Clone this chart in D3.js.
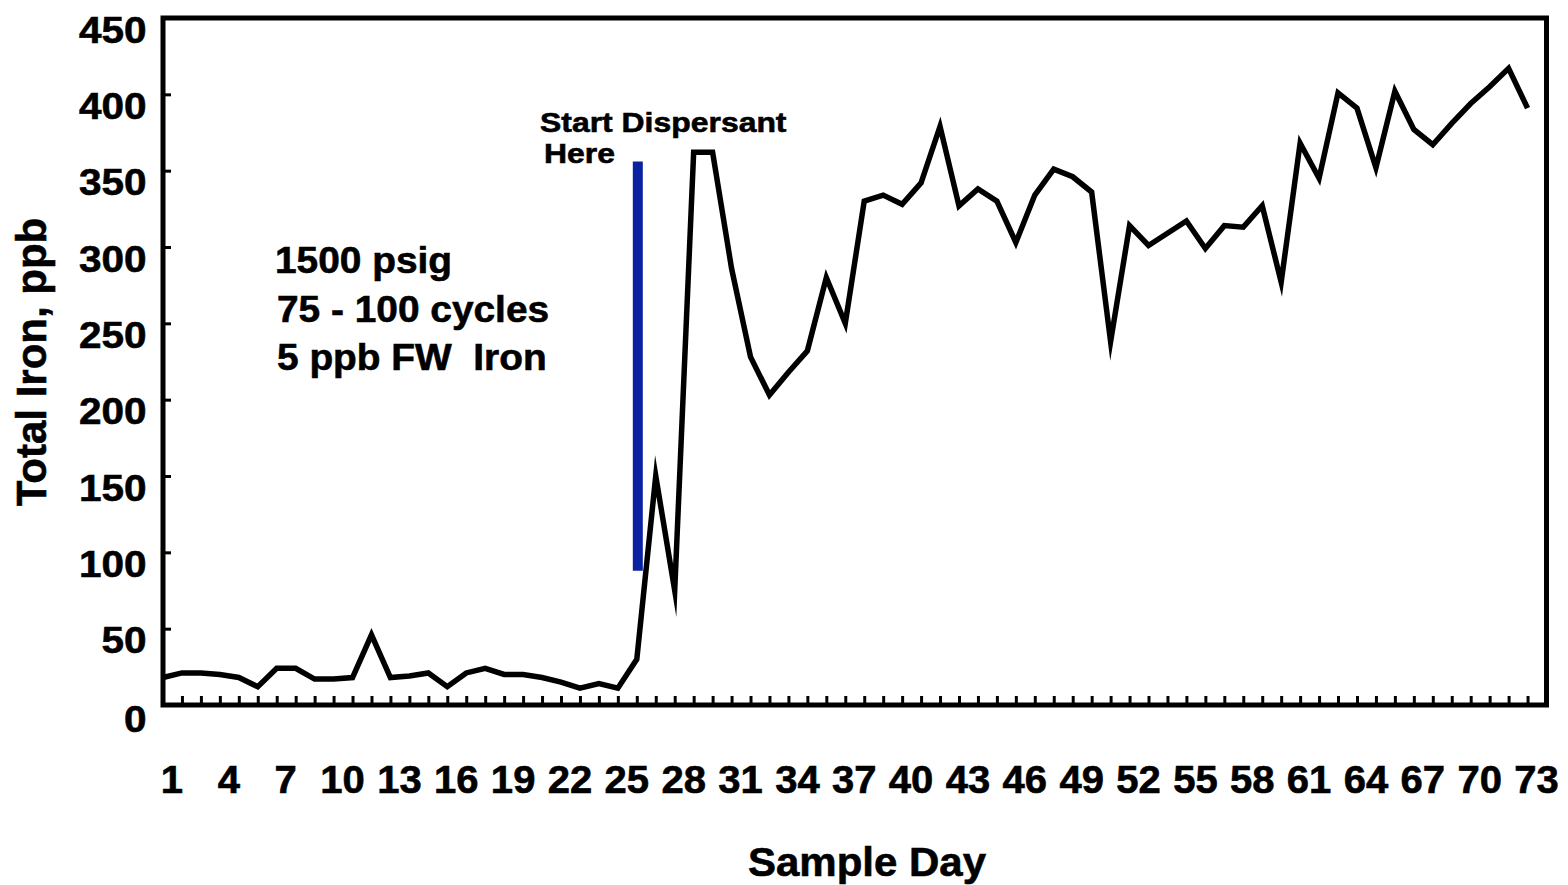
<!DOCTYPE html>
<html><head><meta charset="utf-8">
<script src="https://cdn.jsdelivr.net/npm/d3@7"></script>
<style>
html,body{margin:0;padding:0;background:#fff;}
svg{display:block;}
text{font-family:"Liberation Sans",Arial,Helvetica,sans-serif;font-weight:bold;fill:#000;stroke:#000;stroke-width:0.6px;}
</style></head><body>
<svg id="chart" width="1568" height="885"></svg>
<script>
const days = [1,2,3,4,5,6,7,8,9,10,11,12,13,14,15,16,17,18,19,20,21,22,23,24,25,26,27,28,29,30,31,32,33,34,35,36,37,38,39,40,41,42,43,44,45,46,47,48,49,50,51,52,53,54,55,56,57,58,59,60,61,62,63,64,65,66,67,68,69,70,71,72,73];
const iron = [18,21,21,20,18,12,24,24,17,17,18,46,18,19,21,12,21,24,20,20,18,15,11,14,11,30,150,75,362,362,286,228,203,218,232,280,250,330,334,328,342,379,327,338,330,303,334,351,346,336,238,314,301,309,317,299,314,313,327,277,368,345,401,391,352,402,377,367,381,394,405,417,391];
const xTickLabels = [1,4,7,10,13,16,19,22,25,28,31,34,37,40,43,46,49,52,55,58,61,64,67,70,73];
const yTickValues = [0,50,100,150,200,250,300,350,400,450];
const dispersantDay = 26;
const dispersantRange = [88, 356];
const notes = ["1500 psig", "75 - 100 cycles", "5 ppb FW  Iron"];
const dispersantLabel = ["Start Dispersant", "Here"];
const xTitle = "Sample Day";
const yTitle = "Total Iron, ppb";

const svg = d3.select("#chart");
const L = 163, R = 1546.5, T = 18, B = 705;
const x = d3.scaleLinear().domain([1, 74]).range([L, R]);
const y = d3.scaleLinear().domain([0, 450]).range([B, T]);

// frame
svg.append("rect").attr("x", L).attr("y", T).attr("width", R - L).attr("height", B - T)
  .attr("fill", "none").attr("stroke", "#000").attr("stroke-width", 5);

// x ticks (inward)
const xTicks = svg.append("g").attr("transform", `translate(0,${B})`)
  .call(d3.axisBottom(x).tickValues(days.slice(1)).tickSize(-9).tickFormat(""));
xTicks.select(".domain").remove();
xTicks.selectAll("line").attr("stroke", "#000").attr("stroke-width", 3);

// x labels
const xLab = svg.append("g").attr("transform", `translate(0,${B})`)
  .call(d3.axisBottom(x).tickValues(xTickLabels).tickSize(0).tickFormat(d3.format("d")));
xLab.select(".domain").remove();
xLab.attr("font-size", null).attr("font-family", null);
xLab.selectAll("text").attr("y", null).attr("dy", null)
  .attr("transform", "translate(8.5,88) scale(1.04,1)")
  .style("font-size", "38.5px").attr("fill", "#000");

// y axis
const yAx = svg.append("g").attr("transform", `translate(${L},0)`)
  .call(d3.axisLeft(y).tickValues(yTickValues).tickSize(-8).tickPadding(0));
yAx.select(".domain").remove();
yAx.attr("font-size", null).attr("font-family", null);
yAx.selectAll("line").attr("stroke", "#000").attr("stroke-width", 3);
yAx.selectAll("text").attr("x", null).attr("dy", null)
  .attr("transform", d => `translate(-16.5,${d === 0 ? 26 : 24}) scale(1.08,1)`)
  .style("font-size", "37.5px").attr("fill", "#000");

// dispersant marker
svg.append("line")
  .attr("x1", x(dispersantDay) + 1).attr("x2", x(dispersantDay) + 1)
  .attr("y1", y(dispersantRange[0])).attr("y2", y(dispersantRange[1]))
  .attr("stroke", "#0a22a0").attr("stroke-width", 10);

// data line
const data = days.map((d, i) => ({day: d, v: iron[i]}));
svg.append("path").datum(data)
  .attr("d", d3.line().x(d => x(d.day)).y(d => y(d.v)))
  .attr("fill", "none").attr("stroke", "#000").attr("stroke-width", 5.5)
  .attr("stroke-linejoin", "miter").attr("stroke-miterlimit", 10);

// notes
const noteY = [273, 322, 370];
const noteX = [275, 277, 277];
notes.forEach((t, i) => {
  svg.append("text").attr("transform", `translate(${noteX[i]},${noteY[i]}) scale(1.05,1)`)
    .style("font-size", "37px").style("white-space", "pre").text(t);
});

// dispersant label
svg.append("text").attr("transform", "translate(540,131.5) scale(1.12,1)")
  .style("font-size", "28.5px").text(dispersantLabel[0]);
svg.append("text").attr("transform", "translate(544,163) scale(1.12,1)")
  .style("font-size", "28.5px").text(dispersantLabel[1]);

// titles
svg.append("text").attr("transform", "translate(867,876) scale(1.05,1)")
  .attr("text-anchor", "middle").style("font-size", "40px").text(xTitle);
svg.append("text").attr("transform", "translate(46,362) rotate(-90)")
  .attr("text-anchor", "middle").style("font-size", "42px").text(yTitle);
</script>
</body></html>
